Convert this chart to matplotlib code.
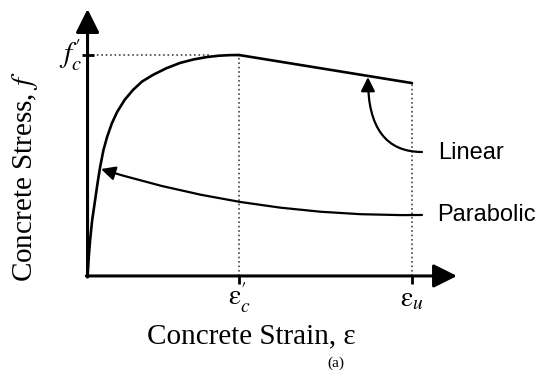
import matplotlib
matplotlib.use("Agg")
import matplotlib.pyplot as plt

plt.rcParams['mathtext.fontset'] = 'stix'

# strain normalised to eps'_c, stress normalised to f'_c
strain_parab = [0, 0.008, 0.017, 0.03, 0.05, 0.066, 0.083, 0.105, 0.129, 0.16, 0.195,
                0.245, 0.30, 0.36, 0.432, 0.52, 0.61, 0.70, 0.789, 0.87, 0.94, 1.0]
stress_parab = [0, 0.085, 0.163, 0.25, 0.344, 0.42, 0.493, 0.57, 0.629, 0.69, 0.742,
                0.797, 0.842, 0.88, 0.910, 0.94, 0.964, 0.98, 0.991, 0.997, 0.9995, 1.0]
strain_lin = [1.0, 2.142]
stress_lin = [1.0, 0.873]
strain_ticks = [1.0, 2.142]
strain_labels = [r"$\mathrm{ε}_c^{\prime}$", r"$\mathrm{ε}_u$"]
stress_tick = 1.0
stress_label = r"$f_c^{\prime}$"

serif = 'Liberation Serif'
sans = 'Liberation Sans'

fig = plt.figure(figsize=(5.5, 3.82), dpi=100)
ax = fig.add_axes([0, 0, 1, 1])
ax.set_xlim(-0.578, 3.053)
ax.set_ylim(-0.48, 1.249)
ax.axis('off')

# axes with arrows
ax.annotate('', xy=(0, 1.208), xytext=(0, -0.005),
            arrowprops=dict(arrowstyle='-|>,head_length=0.9,head_width=0.45',
                            lw=2.2, color='black', shrinkA=0, shrinkB=0,
                            mutation_scale=16))
ax.annotate('', xy=(2.439, 0), xytext=(-0.008, 0),
            arrowprops=dict(arrowstyle='-|>,head_length=0.9,head_width=0.45',
                            lw=2.2, color='black', shrinkA=0, shrinkB=0,
                            mutation_scale=16))

# dotted guides
ax.plot([0, 0.805], [stress_tick, stress_tick], ls=':', lw=1.2, color='#444')
ax.plot([strain_lin[0]] * 2, [0, stress_lin[0]], ls=':', lw=1.2, color='#444')
ax.plot([strain_lin[1]] * 2, [0, stress_lin[1]], ls=':', lw=1.2, color='#444')

# curves
ax.plot(strain_parab, stress_parab, color='black', lw=1.9,
        solid_capstyle='round', solid_joinstyle='round')
ax.plot(strain_lin, stress_lin, color='black', lw=1.9, solid_capstyle='round')

# tick marks
ax.plot([0], [stress_tick], marker='_', ms=9, mew=2, color='black')
ax.plot(strain_ticks, [-0.02] * 2, ls='none', marker='|', ms=6, mew=2, color='black')

# tick labels
ax.text(-0.035, stress_tick, stress_label, fontsize=21, ha='right', va='center')
for s, lab in zip(strain_ticks, strain_labels):
    ax.text(s, -0.1, lab, fontsize=20, ha='center', va='center')

# callouts
ax.annotate('', xy=(0.089, 0.484), xytext=(2.208, 0.276),
            arrowprops=dict(arrowstyle='-|>,head_length=0.6,head_width=0.3',
                            lw=1.6, color='black', shrinkA=0, shrinkB=0,
                            mutation_scale=14, connectionstyle='arc3,rad=-0.08'))
ax.annotate('', xy=(1.851, 0.90), xytext=(2.208, 0.561),
            arrowprops=dict(arrowstyle='-|>,head_length=0.6,head_width=0.3',
                            lw=1.6, color='black', shrinkA=0, shrinkB=0,
                            mutation_scale=14,
                            connectionstyle='angle3,angleA=0,angleB=90'))
ax.text(2.314, 0.557, 'Linear', family=sans, fontsize=17, ha='left', va='center')
ax.text(2.307, 0.276, 'Parabolic', family=sans, fontsize=17, ha='left', va='center')

# axis titles
ax.text(-0.413, 0.45, r"Concrete Stress, $f$", family=serif, fontsize=21,
        rotation=90, ha='center', va='center')
ax.text(1.079, -0.303, "Concrete Strain, ε", family=serif, fontsize=21,
        ha='center', va='baseline')
ax.text(1.64, -0.394, "(a)", family=serif, fontsize=11, ha='center', va='center')

fig.savefig("out.png", dpi=100)
